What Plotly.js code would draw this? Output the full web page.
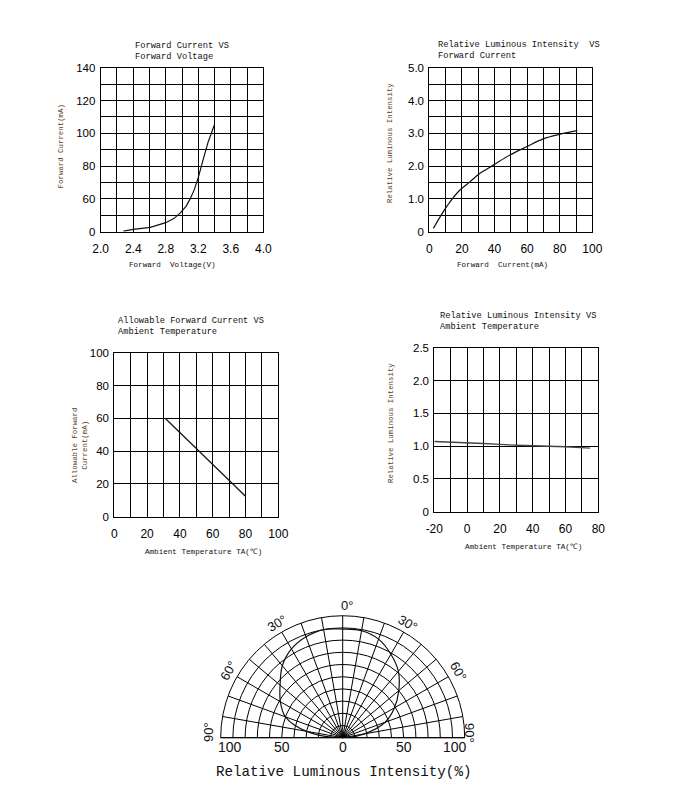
<!DOCTYPE html>
<html>
<head>
<meta charset="utf-8">
<script src="https://cdn.plot.ly/plotly-3.0.1.min.js"></script>
<style>html,body{margin:0;padding:0;background:#fff;}#chart{width:680px;height:809px;}</style>
</head>
<body>
<div id="chart"></div>
<script>
// ---------- Data ----------
// Chart 1: Forward Current vs Forward Voltage (y axis drawn 40..140, bottom labelled "0")
const fvVoltage = [2.28, 2.40, 2.61, 2.80, 2.90, 2.98, 3.05, 3.10, 3.15, 3.20, 3.26, 3.32, 3.40];
const fvCurrent = [40.4, 41.4, 42.6, 45.5, 48.0, 51.5, 55.5, 60.0, 65.5, 73.0, 84.0, 94.5, 105.4];
const fvXTicks = [2.0, 2.2, 2.4, 2.6, 2.8, 3.0, 3.2, 3.4, 3.6, 3.8, 4.0];
const fvXLabels = ['2.0', '', '2.4', '', '2.8', '', '3.2', '', '3.6', '', '4.0'];
const fvYTicks = [40, 50, 60, 70, 80, 90, 100, 110, 120, 130, 140];
const fvYLabels = ['0', '', '60', '', '80', '', '100', '', '120', '', '140'];

// Chart 2: Relative Luminous Intensity vs Forward Current
const liCurrent = [2.5, 8.6, 12.7, 18.8, 24.9, 31.1, 39.3, 49.5, 59.7, 69.9, 80.2, 90.8];
const liIntensity = [0.10, 0.61, 0.91, 1.27, 1.52, 1.78, 2.03, 2.34, 2.59, 2.83, 2.97, 3.08];
const liXTicks = [0, 10, 20, 30, 40, 50, 60, 70, 80, 90, 100];
const liXLabels = ['0', '', '20', '', '40', '', '60', '', '80', '', '100'];
const liYTicks = [0, 0.5, 1, 1.5, 2, 2.5, 3, 3.5, 4, 4.5, 5];
const liYLabels = ['0', '', '1.0', '', '2.0', '', '3.0', '', '4.0', '', '5.0'];

// Chart 3: Allowable Forward Current vs Ambient Temperature
const afTemp = [31, 80];
const afCurrent = [60, 12.5];
const afXTicks = [0, 10, 20, 30, 40, 50, 60, 70, 80, 90, 100];
const afXLabels = ['0', '', '20', '', '40', '', '60', '', '80', '', '100'];
const afYTicks = [0, 20, 40, 60, 80, 100];
const afYLabels = ['0', '20', '40', '60', '80', '100'];

// Chart 4: Relative Luminous Intensity vs Ambient Temperature
const ltTemp = [-20, -13, 0, 10, 20, 30, 40, 60, 70, 75];
const ltIntensity = [1.07, 1.065, 1.05, 1.04, 1.025, 1.01, 1.005, 0.99, 0.98, 0.97];
const ltXTicks = [-20, -10, 0, 10, 20, 30, 40, 50, 60, 70, 80];
const ltXLabels = ['-20', '', '0', '', '20', '', '40', '', '60', '', '80'];
const ltYTicks = [0, 0.5, 1, 1.5, 2, 2.5];
const ltYLabels = ['0', '0.5', '1.0', '1.5', '2.0', '2.5'];

// Chart 5: radiation pattern (theta: + = left of 0°, - = right)
const polarAngles = [-90, -80, -70, -60, -50, -40, -30, -20, -10, 0, 10, 20, 30, 40, 50, 60, 70, 80, 90];
const polarIntensity = [0, 18, 37, 49, 60, 71, 79, 86, 89, 89, 90, 88, 84, 77, 67, 59, 50, 30, 0];
const polarGridAngles = [-90, -80, -70, -60, -50, -40, -30, -20, -10, 0, 10, 20, 30, 40, 50, 60, 70, 80, 90];
const polarRadialLabels = ['100', '50', '0', '50', '100'];
const polarAngleLabels = ['90°', '60°', '30°', '0°', '30°', '60°', '90°'];

// ---------- Layout helpers ----------
const W = 680, H = 809;
const px = v => v / W;
const py = v => 1 - v / H;

const tickFont = {family: 'Liberation Sans, Arial, sans-serif', size: 12, color: '#000'};
const titleFont = {family: 'Liberation Mono, DejaVu Sans Mono, monospace', size: 8.7, color: '#111'};
const axTitleFont = {family: 'Liberation Mono, DejaVu Sans Mono, monospace', size: 7.6, color: '#111'};
const yTitleFont = {family: 'Liberation Mono, DejaVu Sans Mono, monospace', size: 7.4, color: '#5c3d24'};

function xa(domainPx, range, tv, tt) {
  return {
    domain: [px(domainPx[0]), px(domainPx[1])], range: range,
    tickmode: 'array', tickvals: tv, ticktext: tt,
    showgrid: true, gridcolor: '#000', gridwidth: 1,
    showline: true, linecolor: '#000', linewidth: 1, mirror: true,
    zeroline: false, ticks: '', ticklabelstandoff: 6,
    tickfont: tickFont, fixedrange: true
  };
}
function ya(domainPx, range, tv, tt) {
  return {
    domain: [py(domainPx[1]), py(domainPx[0])], range: range,
    tickmode: 'array', tickvals: tv, ticktext: tt,
    showgrid: true, gridcolor: '#000', gridwidth: 1,
    showline: true, linecolor: '#000', linewidth: 1, mirror: true,
    zeroline: false, ticks: '', ticklabelstandoff: 2,
    tickfont: Object.assign({}, tickFont, {size: 11.5}), fixedrange: true
  };
}

const lineStyle = {color: '#111', width: 1.2};

const traces = [
  {x: fvVoltage, y: fvCurrent, xaxis: 'x', yaxis: 'y', mode: 'lines', line: lineStyle},
  {x: liCurrent, y: liIntensity, xaxis: 'x2', yaxis: 'y2', mode: 'lines', line: Object.assign({shape: 'spline'}, lineStyle)},
  {x: afTemp, y: afCurrent, xaxis: 'x3', yaxis: 'y3', mode: 'lines', line: lineStyle},
  {x: ltTemp, y: ltIntensity, xaxis: 'x4', yaxis: 'y4', mode: 'lines', line: {color: '#444', width: 1.3}},
  {type: 'scatterpolar', theta: polarAngles, r: polarIntensity, mode: 'lines', subplot: 'polar',
   line: {color: '#111', width: 1.2, shape: 'spline'}}
];

// polar geometry
const pc = {x: 342.7, y: 737.7, r: 122};

const annotations = [];
function ann(text, x, y, font, opts) {
  annotations.push(Object.assign({text: text, x: px(x), y: py(y), xref: 'paper', yref: 'paper',
    showarrow: false, font: font, xanchor: 'center', yanchor: 'middle'}, opts || {}));
}
// chart titles
ann('Forward Current VS<br>Forward Voltage', 133, 51, titleFont, {xanchor: 'left', align: 'left'});
ann('Relative Luminous Intensity  VS<br>Forward Current', 436, 50.5, titleFont, {xanchor: 'left', align: 'left'});
ann('Allowable Forward Current VS<br>Ambient Temperature', 116, 327, titleFont, {xanchor: 'left', align: 'left'});
ann('Relative Luminous Intensity VS<br>Ambient Temperature', 438, 321.5, titleFont, {xanchor: 'left', align: 'left'});
// x titles
ann('Forward  Voltage(V)', 172, 265, axTitleFont);
ann('Forward  Current(mA)', 502, 265, axTitleFont);
ann('Ambient Temperature TA(℃)', 203, 551.7, axTitleFont);
ann('Ambient Temperature TA(℃)', 523, 546.7, axTitleFont);
// y titles
ann('Forward Current(mA)', 60.7, 146.7, yTitleFont, {textangle: -90});
ann('Relative Luminous Intensity', 390.7, 143.3, yTitleFont, {textangle: -90});
ann('Allowable Forward<br>Current(mA)', 80, 446, yTitleFont, {textangle: -90});
ann('Relative Luminous Intensity', 391.7, 423.3, yTitleFont, {textangle: -90});

// polar radial labels
const radialLabelX = [230, 281.7, 342.7, 403.5, 455];
const polarLabelFont = {family: 'Liberation Sans, Arial, sans-serif', size: 14, color: '#111'};
polarRadialLabels.forEach((t, i) => ann(t, radialLabelX[i], 747, polarLabelFont));
ann('Relative Luminous Intensity(%)', 343.3, 772.3, {family: 'Liberation Mono, DejaVu Sans Mono, monospace', size: 14.2, color: '#111'});
// polar angle labels
const angFont = {family: 'Liberation Sans, Arial, sans-serif', size: 13, color: '#111'};
const angPos = [[208.3, 731.7, -90], [228.3, 670, -60], [276.7, 623.3, -30], [346.7, 605, 0], [408.3, 623.3, 30], [458.3, 671.7, 60], [469.3, 733.3, 90]];
polarAngleLabels.forEach((t, i) => ann(t, angPos[i][0], angPos[i][1], angFont, {textangle: angPos[i][2]}));

const layout = {
  width: W, height: H, margin: {l: 0, r: 0, t: 0, b: 0},
  paper_bgcolor: '#fff', plot_bgcolor: '#fff', showlegend: false,
  xaxis: xa([100.7, 263.3], [2.0, 4.0], fvXTicks, fvXLabels),
  yaxis: ya([67.7, 231.7], [40, 140], fvYTicks, fvYLabels),
  xaxis2: Object.assign(xa([429.3, 592.3], [0, 100], liXTicks, liXLabels), {anchor: 'y2'}),
  yaxis2: Object.assign(ya([67.7, 231.7], [0, 5], liYTicks, liYLabels), {anchor: 'x2'}),
  xaxis3: Object.assign(xa([114.3, 278.3], [0, 100], afXTicks, afXLabels), {anchor: 'y3'}),
  yaxis3: Object.assign(ya([352.7, 516.7], [0, 100], afYTicks, afYLabels), {anchor: 'x3'}),
  xaxis4: Object.assign(xa([434.3, 598.3], [-20, 80], ltXTicks, ltXLabels), {anchor: 'y4'}),
  yaxis4: Object.assign(ya([347.7, 511.7], [0, 2.5], ltYTicks, ltYLabels), {anchor: 'x4'}),
  polar: {
    domain: {x: [px(pc.x - pc.r), px(pc.x + pc.r)], y: [py(pc.y), py(pc.y - pc.r)]},
    sector: [0, 180], bgcolor: '#fff',
    radialaxis: {range: [0, 100], dtick: 10, tick0: 0, showticklabels: false, ticks: '',
      showgrid: true, gridcolor: '#000', gridwidth: 1, showline: false},
    angularaxis: {rotation: 90, direction: 'counterclockwise', tickmode: 'array', tickvals: polarGridAngles,
      showticklabels: false, ticks: '', showgrid: true, gridcolor: '#000', gridwidth: 1,
      showline: true, linecolor: '#000', linewidth: 1}
  },
  annotations: annotations
};

Plotly.newPlot('chart', traces, layout, {staticPlot: true, displayModeBar: false});
</script>
</body>
</html>
